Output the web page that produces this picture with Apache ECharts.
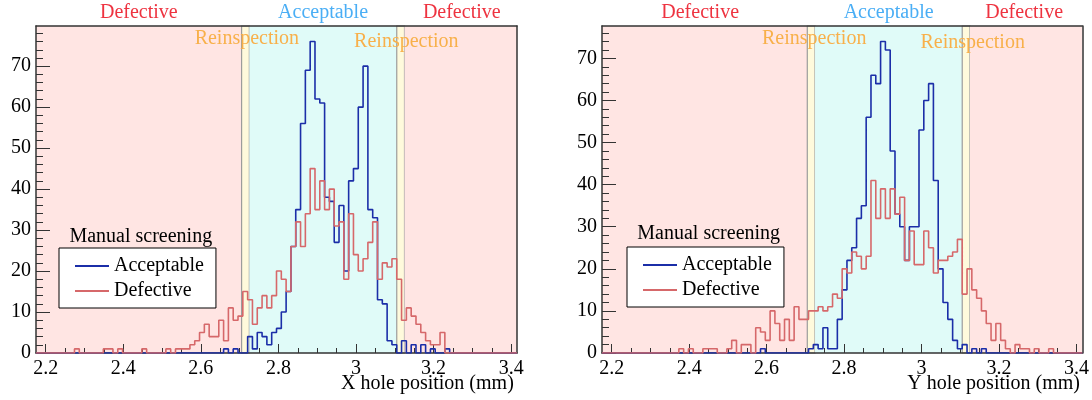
<!DOCTYPE html>
<html><head><meta charset="utf-8">
<script src="https://cdn.jsdelivr.net/npm/echarts@6/dist/echarts.min.js"></script>
<style>html,body{margin:0;padding:0;background:#fff}#chart{width:1092px;height:400px}</style>
</head><body><div id="chart"></div>
<script>
// ---- data ----
const binStart = 2.175;
const binWidth = 0.0124;
const xAxisMin = 2.175;
const xAxisMax = 3.415;
const yAxisMax = [79.8, 77.7];

const xHoleAcceptable = [
  0,0,0,0,0,0,0,0,0,0,
  0,0,0,0,0,0,0,0,0,0,
  0,0,0,0,0,0,0,0,0,0,
  0,0,0,0,0,0,0,0,0,1,
  0,1,0,0,4,1,5,4,2,5,
  6,10,15,26,35,56,69,76,62,61,
  38,37,27,36,20,42,45,60,70,35,
  33,13,12,3,2,0,3,0,2,0,
  2,0,1,0,0,1,0,0,0,0,
  0,0,0,0,0,0,0,0,0,0
];
const xHoleDefective = [
  0,0,0,0,0,0,0,0,1,0,
  0,0,0,0,1,1,0,1,0,0,
  0,0,1,0,0,0,0,1,0,1,
  1,1,2,3,5,7,4,4,8,3,
  11,8,9,15,13,7,11,14,11,14,
  20,18,15,26,32,26,34,45,35,42,
  35,40,31,32,18,34,24,20,23,27,
  32,18,22,21,23,18,8,11,9,7,
  5,3,2,2,5,0,0,0,0,0,
  0,0,0,0,0,0,0,0,0,0
];
const yHoleAcceptable = [
  0,0,0,0,0,0,0,0,0,0,
  0,0,0,0,0,0,0,0,0,0,
  0,0,0,0,0,0,0,0,0,0,
  0,0,0,1,0,0,0,0,0,0,
  0,0,0,1,2,1,6,1,1,8,
  15,22,25,32,35,56,66,64,74,72,
  48,33,30,22,30,30,53,60,64,41,
  20,12,8,3,1,2,0,1,0,1,
  0,0,0,0,0,0,0,0,0,0,
  0,0,0,0,0,0,0,0,0,0
];
const yHoleDefective = [
  0,0,0,0,0,0,0,0,0,0,
  0,0,0,0,0,0,1,0,1,0,
  0,1,1,1,0,0,1,3,0,2,
  2,0,6,5,3,10,7,3,8,3,
  11,8,8,10,10,11,10,11,14,13,
  20,19,24,23,20,23,41,32,39,32,
  39,33,37,22,29,21,21,29,25,19,
  22,22,23,24,27,14,20,15,13,10,
  7,3,7,3,1,0,2,1,1,0,
  1,0,0,1,0,0,0,0,0,0
];

const xMajorTicks = [2.2, 2.4, 2.6, 2.8, 3, 3.2, 3.4];
const xMinorTicks = [2.25,2.3,2.35,2.45,2.5,2.55,2.65,2.7,2.75,2.85,2.9,2.95,3.05,3.1,3.15,3.25,3.3,3.35];
const yMajorTicks = [0, 10, 20, 30, 40, 50, 60, 70];
const yMinorTicks = [2,4,6,8,12,14,16,18,22,24,26,28,32,34,36,38,42,44,46,48,52,54,56,58,62,64,66,68,72,74,76,78];

const bandEdges = [2.175, 2.705, 2.725, 3.105, 3.125, 3.415];
const bandNames = ['Defective', 'Reinspection', 'Acceptable', 'Reinspection', 'Defective'];
const seriesNames = ['Acceptable', 'Defective'];
const axisTitles = ['X hole position (mm)', 'Y hole position (mm)'];
const legendTitle = 'Manual screening';

// ---- style ----
const FONT = '"Liberation Serif", "Times New Roman", serif';
const C = {
  blue: '#1b2ea8', red: '#d6686a', frame: '#333333',
  def: '#EE3340', acc: '#4AAEF5', reins: '#F8B04A',
  pink: '#FFE5E3', yellow: '#FFFADC', cyan: '#E0FBF8', bandLine: '#9c9c9c'
};
const bandFill = { 'Defective': C.pink, 'Reinspection': C.yellow, 'Acceptable': C.cyan };
const bandText = { 'Defective': C.def, 'Reinspection': C.reins, 'Acceptable': C.acc };

const panels = [
  { grid: {left: 36, top: 26, width: 481, height: 327}, acc: xHoleAcceptable, def: xHoleDefective,
    yMax: yAxisMax[0], title: axisTitles[0],
    labelOffsets: [[0,0],[1.4,2],[0,0],[5.7,5],[1,0]],
    legendPos: {left: 59, top: 248}, legendTitleXY: [140.8, 237], titleXY: [513.8, 384] },
  { grid: {left: 602, top: 26, width: 481, height: 327}, acc: yHoleAcceptable, def: yHoleDefective,
    yMax: yAxisMax[1], title: axisTitles[1],
    labelOffsets: [[-4.5,0],[3,2.5],[0,0],[6.6,6],[-2,0]],
    legendPos: {left: 627, top: 247}, legendTitleXY: [708.7, 234], titleXY: [1080, 384] }
];

function histPoints(values) {
  const pts = [[binStart, 0]];
  values.forEach((v, i) => pts.push([binStart + i * binWidth, v]));
  const end = binStart + values.length * binWidth;
  pts.push([end, values[values.length - 1]]);
  pts.push([end, 0]);
  return pts;
}

function bands(offsets) {
  return bandNames.map((name, i) => [
    {
      name: name, xAxis: bandEdges[i],
      itemStyle: name === 'Reinspection'
        ? {color: bandFill[name], borderColor: C.bandLine, borderWidth: 1.2}
        : {color: bandFill[name], borderWidth: 0},
      label: {
        show: true,
        position: name === 'Reinspection' ? 'insideTop' : 'top',
        distance: name === 'Reinspection' ? 1 : 3,
        offset: offsets[i],
        color: bandText[name], fontFamily: FONT, fontSize: 20, fontWeight: 'normal'
      }
    },
    { xAxis: bandEdges[i + 1] }
  ]);
}

const grid = [], xAxis = [], yAxis = [], series = [], legend = [], graphic = [];
panels.forEach((p, i) => {
  grid.push(Object.assign({show: false}, p.grid));
  const lineStyle = {color: C.frame, width: 1.5};
  const base = {gridIndex: i, type: 'value', min: xAxisMin, max: xAxisMax, z: 2, splitLine: {show: false}};
  xAxis.push(Object.assign({}, base, {
    position: 'bottom',
    axisLine: {show: true, onZero: false, lineStyle},
    axisTick: {show: true, inside: true, length: 9, customValues: xMajorTicks, lineStyle: {color: C.frame, width: 1}},
    axisLabel: {show: true, customValues: xMajorTicks, margin: 6, fontFamily: FONT, fontSize: 20, color: '#000',
      formatter: v => String(v)}
  }));
  xAxis.push(Object.assign({}, base, {
    position: 'bottom',
    axisLine: {show: false, onZero: false},
    axisTick: {show: true, inside: true, length: 5, customValues: xMinorTicks, lineStyle: {color: C.frame, width: 1}},
    axisLabel: {show: false}
  }));
  xAxis.push(Object.assign({}, base, {
    position: 'top',
    axisLine: {show: true, onZero: false, lineStyle},
    axisTick: {show: false}, axisLabel: {show: false}
  }));
  const ybase = {gridIndex: i, type: 'value', min: 0, max: p.yMax, z: 2, splitLine: {show: false}};
  yAxis.push(Object.assign({}, ybase, {
    position: 'left',
    axisLine: {show: true, onZero: false, lineStyle},
    axisTick: {show: true, inside: true, length: 14, customValues: yMajorTicks, lineStyle: {color: C.frame, width: 1}},
    axisLabel: {show: true, customValues: yMajorTicks, margin: 5, fontFamily: FONT, fontSize: 20, color: '#000'}
  }));
  yAxis.push(Object.assign({}, ybase, {
    position: 'left',
    axisLine: {show: false, onZero: false},
    axisTick: {show: true, inside: true, length: 7, customValues: yMinorTicks.filter(v => v <= p.yMax), lineStyle: {color: C.frame, width: 1}},
    axisLabel: {show: false}
  }));
  yAxis.push(Object.assign({}, ybase, {
    position: 'right',
    axisLine: {show: true, onZero: false, lineStyle},
    axisTick: {show: false}, axisLabel: {show: false}
  }));
  series.push({
    type: 'line', name: seriesNames[0], xAxisIndex: 3 * i, yAxisIndex: 3 * i,
    data: histPoints(p.acc), step: 'end', symbol: 'none', showSymbol: false, z: 3, silent: true,
    lineStyle: {color: C.blue, width: 1.6}, itemStyle: {color: C.blue},
    markArea: {silent: true, z: 1,
      label: {fontFamily: FONT, fontSize: 20},
      data: bands(p.labelOffsets)}
  });
  series.push({
    type: 'line', name: seriesNames[1], xAxisIndex: 3 * i, yAxisIndex: 3 * i,
    data: histPoints(p.def), step: 'end', symbol: 'none', showSymbol: false, z: 4, silent: true,
    lineStyle: {color: C.red, width: 1.6}, itemStyle: {color: C.red}
  });
  legend.push(Object.assign({
    orient: 'vertical', padding: [8, 12, 7, 16], itemGap: 5, itemWidth: 34, itemHeight: 2, icon: 'rect',
    data: seriesNames, borderColor: '#000', borderWidth: 1, backgroundColor: '#fff', borderRadius: 0,
    selectedMode: false, textStyle: {fontFamily: FONT, fontSize: 20, color: '#000', lineHeight: 20, height: 20}, z: 6
  }, p.legendPos));
  graphic.push({type: 'text', x: p.legendTitleXY[0], y: p.legendTitleXY[1], z: 10,
    style: {text: legendTitle, fill: '#000', font: '20px "Liberation Serif"', align: 'center', verticalAlign: 'middle'}});
  graphic.push({type: 'text', x: p.titleXY[0], y: p.titleXY[1], z: 10,
    style: {text: p.title, fill: '#000', font: '20px "Liberation Serif"', align: 'right', verticalAlign: 'middle'}});
});

const chart = echarts.init(document.getElementById('chart'), null, {renderer: 'canvas'});
chart.setOption({
  animation: false,
  backgroundColor: '#fff',
  textStyle: {fontFamily: FONT},
  grid, xAxis, yAxis, series, legend, graphic
});
</script>
</body></html>
